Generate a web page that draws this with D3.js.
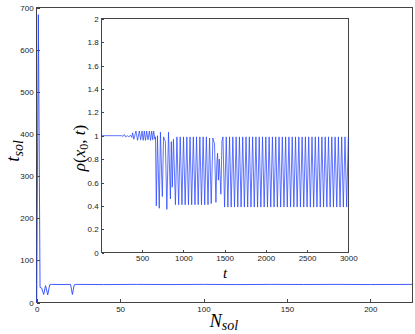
<!DOCTYPE html>
<html>
<head>
<meta charset="utf-8">
<script src="https://cdn.jsdelivr.net/npm/d3@7"></script>
<style>
  body { margin: 0; background: #fff; }
  svg { display: block; }
  .tick text { font-family: "Liberation Sans", Arial, sans-serif; font-size: 8px; fill: #222; }
  .math { font-family: "Liberation Serif", "DejaVu Serif", serif; font-style: italic; fill: #000; }
</style>
</head>
<body>
<div id="chart"></div>
<script>
// main curve: time to solution vs number of solitons
const nSol = [0, 1, 2, 3, 4.2, 5.3, 6.6, 7.8, 9, 14, 20.3, 21.4, 22.5, 24, 40, 60, 80, 100, 120, 140, 160, 180, 200, 225];
const tSol = [0, 683, 36, 34, 19, 40, 18, 42, 43, 42.6, 43, 19, 42, 43, 42.5, 43, 42.6, 43, 42.5, 43, 42.7, 43, 42.6, 43];
const mainXTicks = [0, 50, 100, 150, 200];
const mainYTicks = [0, 100, 200, 300, 400, 500, 600, 700];

// inset: rho(x0, t) time series (peaks and troughs)
const insetT = [
  10, 230, 250, 270, 285, 300, 320, 340, 360, 375,
  385, 400, 425, 445, 466, 482, 499, 513, 527, 541, 555, 571, 588, 602, 616, 628, 640, 655,
  662, 672, 686, 708, 722, 745, 760, 782, 800, 820, 843, 854, 866, 880, 904, 922,
  943, 962, 983, 1002, 1022, 1042, 1062, 1081, 1101, 1121, 1141, 1160, 1180, 1200, 1220, 1240, 1259, 1279, 1299, 1318, 1338, 1358,
  1378, 1395, 1405, 1415, 1425, 1435, 1445, 1455, 1468, 1480,
  1500, 1520, 1540, 1560, 1580, 1600, 1620, 1640, 1660, 1680, 1700, 1720, 1740, 1760, 1780, 1800, 1820, 1840, 1860, 1880,
  1900, 1920, 1940, 1960, 1980, 2000, 2020, 2040, 2060, 2080, 2100, 2120, 2140, 2160, 2180, 2200, 2220, 2240, 2260, 2280,
  2300, 2320, 2340, 2360, 2380, 2400, 2420, 2440, 2460, 2480, 2500, 2520, 2540, 2560, 2580, 2600, 2620, 2640, 2660, 2680,
  2700, 2720, 2740, 2760, 2780, 2800, 2820, 2840, 2860, 2880, 2900, 2920, 2940, 2960, 2980, 3000
];
const insetRho = [
  1, 1, 1, 0.995, 1.01, 0.99, 1, 0.99, 1.005, 0.985,
  1.025, 0.97, 1.04, 0.96, 1.04, 0.965, 1.04, 0.96, 1.04, 0.96, 1.04, 0.965, 1.04, 0.96, 1.04, 0.965, 1.04, 0.97,
  0.99, 0.40, 1.0, 0.38, 1.03, 0.48, 0.99, 0.95, 0.37, 1.03, 0.46, 0.95, 0.56, 0.97, 0.41, 0.99,
  0.41, 0.99, 0.41, 0.99, 0.41, 0.99, 0.41, 0.99, 0.41, 0.99, 0.41, 0.99, 0.41, 0.99, 0.41, 0.99, 0.41, 0.99, 0.41, 0.98, 0.42, 0.98,
  0.93, 0.43, 0.75, 0.85, 0.62, 0.80, 0.66, 0.50, 0.95, 0.99,
  0.39, 0.99, 0.39, 0.99, 0.39, 0.99, 0.39, 0.99, 0.39, 0.99, 0.39, 0.99, 0.39, 0.99, 0.39, 0.99, 0.39, 0.99, 0.39, 0.99,
  0.39, 0.99, 0.39, 0.99, 0.39, 0.99, 0.39, 0.99, 0.39, 0.99, 0.39, 0.99, 0.39, 0.99, 0.39, 0.99, 0.39, 0.99, 0.39, 0.99,
  0.39, 0.99, 0.39, 0.99, 0.39, 0.99, 0.39, 0.99, 0.39, 0.99, 0.39, 0.99, 0.39, 0.99, 0.39, 0.99, 0.39, 0.99, 0.39, 0.99,
  0.39, 0.99, 0.39, 0.99, 0.39, 0.99, 0.39, 0.99, 0.39, 0.99, 0.39, 0.99, 0.39, 0.99, 0.39, 0.99, 0.39, 0.99, 0.39, 0.99
];
const insetXTicks = [500, 1000, 1500, 2000, 2500, 3000];
const insetYTicks = [0, 0.2, 0.4, 0.6, 0.8, 1, 1.2, 1.4, 1.6, 1.8, 2];

const W = 415, H = 334;
const lineColor = "#2846ff";
const axisColor = "#444";

const svg = d3.select("#chart").append("svg")
  .attr("width", W)
  .attr("height", H);

// draws a boxed axes panel and returns its scales
function panel(box, xDomain, yDomain, xTicks, yTicks) {
  const x = d3.scaleLinear().domain(xDomain).range([box.left, box.right]);
  const y = d3.scaleLinear().domain(yDomain).range([box.bottom, box.top]);

  svg.append("rect")
    .attr("x", box.left)
    .attr("y", box.top)
    .attr("width", box.right - box.left)
    .attr("height", box.bottom - box.top)
    .attr("fill", "#fff")
    .attr("stroke", axisColor)
    .attr("stroke-width", 1)
    .attr("shape-rendering", "crispEdges");

  const xAxis = svg.append("g")
    .attr("transform", `translate(0,${box.bottom})`)
    .call(d3.axisBottom(x).tickValues(xTicks).tickFormat(d3.format("~g"))
      .tickSizeInner(-box.tick).tickSizeOuter(0).tickPadding(box.pad));
  const yAxis = svg.append("g")
    .attr("transform", `translate(${box.left},0)`)
    .call(d3.axisLeft(y).tickValues(yTicks).tickFormat(d3.format("~g"))
      .tickSizeInner(-box.tick).tickSizeOuter(0).tickPadding(3));

  [xAxis, yAxis].forEach((g) => {
    g.select(".domain").remove();
    g.selectAll("line").attr("stroke", axisColor).attr("shape-rendering", "crispEdges");
  });
  return { x, y };
}

// main panel
const main = { left: 36.7, right: 412, top: 7.5, bottom: 302.5, tick: 3.5, pad: 4 };
const m = panel(main, [0, 225], [0, 700], mainXTicks, mainYTicks);

const mainLine = d3.line()
  .x((d) => m.x(d[0]))
  .y((d) => m.y(d[1]));

svg.append("path")
  .datum(nSol.map((n, i) => [n, tSol[i]]))
  .attr("d", mainLine)
  .attr("fill", "none")
  .attr("stroke", lineColor)
  .attr("stroke-width", 0.9);

// inset panel
const inset = { left: 101.7, right: 348.3, top: 18.7, bottom: 252.7, tick: 2.5, pad: 3 };
const s = panel(inset, [10, 3000], [0, 2], insetXTicks, insetYTicks);

const insetLine = d3.line()
  .x((d) => s.x(d[0]))
  .y((d) => s.y(d[1]));

svg.append("path")
  .datum(insetT.map((t, i) => [t, insetRho[i]]))
  .attr("d", insetLine)
  .attr("fill", "none")
  .attr("stroke", lineColor)
  .attr("stroke-width", 0.75);

// axis labels (LaTeX-like math)
const yLab = svg.append("text")
  .attr("class", "math")
  .attr("transform", "translate(19,151) rotate(-90)")
  .attr("text-anchor", "middle")
  .attr("font-size", 19);
yLab.append("tspan").text("t");
yLab.append("tspan").attr("font-size", 14).attr("dy", 4).text("sol");

const xLab = svg.append("text")
  .attr("class", "math")
  .attr("x", 224)
  .attr("y", 327)
  .attr("text-anchor", "middle")
  .attr("font-size", 18);
xLab.append("tspan").text("N");
xLab.append("tspan").attr("font-size", 14).attr("dy", 3).text("sol");

const rLab = svg.append("text")
  .attr("class", "math")
  .attr("transform", "translate(85,148) rotate(-90)")
  .attr("text-anchor", "middle")
  .attr("font-size", 17);
rLab.append("tspan").text("ρ");
rLab.append("tspan").attr("font-style", "normal").text("(");
rLab.append("tspan").text("x");
rLab.append("tspan").attr("font-style", "normal").attr("font-size", 12).attr("dy", 3).text("0");
rLab.append("tspan").attr("font-style", "normal").attr("dy", -3).text(", ");
rLab.append("tspan").text("t");
rLab.append("tspan").attr("font-style", "normal").text(")");

svg.append("text")
  .attr("class", "math")
  .attr("x", 225)
  .attr("y", 278)
  .attr("text-anchor", "middle")
  .attr("font-size", 15)
  .text("t");
</script>
</body>
</html>
